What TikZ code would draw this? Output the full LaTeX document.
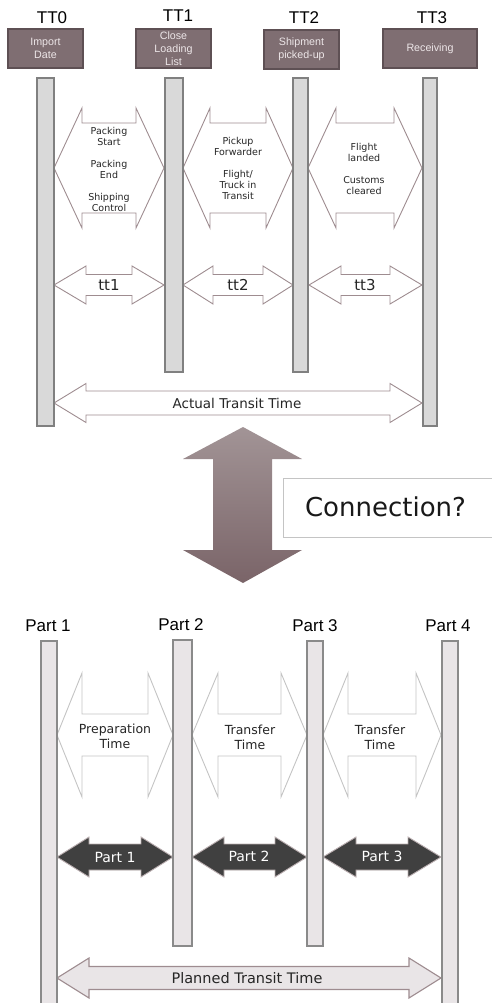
\documentclass[tikz,border=0pt]{standalone}
\usepackage{fontspec}
\newfontfamily\arialfont{Liberation Sans}
\newfontfamily\verdfont{DejaVu Sans}

\definecolor{boxfill}{HTML}{7F6E72}
\definecolor{boxline}{HTML}{5E5054}
\definecolor{boxtext}{HTML}{EDE6E8}
\definecolor{hexline}{HTML}{9E8C90}
\definecolor{midtop}{HTML}{A29496}
\definecolor{midbot}{HTML}{7A6468}
\definecolor{lightline}{HTML}{C4C4C4}
\definecolor{darkfill}{HTML}{404040}
\definecolor{palefill}{HTML}{E9E5E7}

% double headed block arrow: style, x left, x right, y, head half, shaft half, head length
\newcommand{\twoway}[7]{%
	\draw[#1] (#2,#4) -- ++(#7,-#5) -- ++(0,#5-#6) -- (#3-#7,#4-#6) -- ++(0,#6-#5)
		-- (#3,#4) -- ++(-#7,#5) -- ++(0,#6-#5) -- (#2+#7,#4+#6) -- ++(0,#5-#6) -- cycle;
}

\begin{document}
\begin{tikzpicture}[x=1pt,y=-1pt,
	stamp/.style={font=\arialfont\fontsize{17}{19}\selectfont},
	evbox/.style={fill=boxfill,draw=boxline,line width=1.2pt},
	evtext/.style={text=boxtext,align=center,font=\arialfont\fontsize{10.7}{12.8}\selectfont},
	topbar/.style={fill=black!15,draw=black!50,line width=1.6pt},
	lowbar/.style={fill=palefill,draw=black!46,line width=1.6pt},
	hexarrow/.style={fill=white,draw=hexline,line width=0.9pt},
	palearrow/.style={fill=white,draw=lightline,line width=0.9pt},
	darkarrow/.style={fill=darkfill,draw=hexline!70,line width=0.9pt},
	planarrow/.style={fill=palefill,draw=hexline,line width=1.1pt},
	small/.style={align=center,text=black!85,font=\verdfont\fontsize{9.5}{11}\selectfont},
	mid/.style={align=center,text=black!85,font=\verdfont\fontsize{12.5}{15}\selectfont},
	spanlbl/.style={text=black!85,font=\verdfont\fontsize{13.5}{15}\selectfont}]

	\useasboundingbox (0,0) rectangle (491,1003);

	% actual times
	\node[stamp] (tt0) at (52,18) {TT0};
	\node[stamp] (tt1) at (178,16) {TT1};
	\node[stamp] (tt2) at (304,18) {TT2};
	\node[stamp] (tt3) at (432,18) {TT3};

	\draw[evbox] (8,29) rectangle (83,68);
	\draw[evbox] (136,29) rectangle (211,68);
	\draw[evbox] (264,30) rectangle (339,69);
	\draw[evbox] (383,29) rectangle (477,68);
	\node[evtext] (ev0) at (45.5,48.5) {Import\\Date};
	\node[evtext] (ev1) at (173.5,48.5) {Close\\Loading\\List};
	\node[evtext] (ev2) at (301.5,49.5) {Shipment\\picked-up};
	\node[evtext] (ev3) at (430,48.5) {Receiving};

	\twoway{hexarrow}{54}{164}{168}{60}{45}{28}
	\twoway{hexarrow}{183}{293}{168}{60}{45}{27}
	\twoway{hexarrow}{308}{422}{168}{60}{45}{28}
	\node[small] (steps1) at (109,169) {Packing\\Start\\[11pt]Packing\\End\\[11pt]Shipping\\Control};
	\node[small] (steps2) at (238,168.5) {Pickup\\Forwarder\\[11pt]Flight/\\Truck in\\Transit};
	\node[small] (steps3) at (364,169) {Flight\\landed\\[11pt]Customs\\cleared};

	\twoway{hexarrow}{54}{164}{285}{19}{10.5}{32}
	\twoway{hexarrow}{183}{293}{285}{19}{10.5}{30}
	\twoway{hexarrow}{309}{422}{285}{19}{10.5}{32}
	\node[text=black!85,font=\verdfont\fontsize{15}{16}\selectfont] (d1) at (109,285) {tt1};
	\node[text=black!85,font=\verdfont\fontsize{15}{16}\selectfont] (d2) at (238,285) {tt2};
	\node[text=black!85,font=\verdfont\fontsize{15}{16}\selectfont] (d3) at (365,285) {tt3};

	\twoway{hexarrow}{54}{422}{403}{19.5}{12}{32}
	\node[spanlbl] (actual) at (237,403) {Actual Transit Time};

	\draw[topbar] (37,78) rectangle (54,426);
	\draw[topbar] (165,78) rectangle (183,372);
	\draw[topbar] (293,78) rectangle (308,372);
	\draw[topbar] (423,78) rectangle (437,426);

	% the link between both timelines
	\shade[top color=midtop,bottom color=midbot] (243,427) -- (302,459) -- (272,459) -- (272,550)
		-- (302,550) -- (243,583) -- (183,550) -- (213,550) -- (213,459) -- (183,459) -- cycle;
	\draw[lightline,line width=0.9pt,fill=white] (283,478) rectangle (496,537);
	\node[font=\verdfont\fontsize{26}{28}\selectfont,text=black!90] (conn) at (385.5,507) {Connection?};

	% planned times
	\node[stamp] (p1) at (48,626) {Part 1};
	\node[stamp] (p2) at (181,625) {Part 2};
	\node[stamp] (p3) at (315,626) {Part 3};
	\node[stamp] (p4) at (448,626) {Part 4};

	\twoway{palearrow}{57}{173}{735}{62}{21}{25}
	\twoway{palearrow}{192}{307}{735}{62}{21}{26}
	\twoway{palearrow}{323}{441}{735}{62}{21}{25}
	\node[mid] (prep) at (115,736.5) {Preparation\\Time};
	\node[mid] (move1) at (250,737) {Transfer\\Time};
	\node[mid] (move2) at (380,737) {Transfer\\Time};

	\twoway{darkarrow}{57}{173}{857}{20}{13}{32}
	\twoway{darkarrow}{192}{307}{857}{20}{13}{32}
	\twoway{darkarrow}{323}{441}{857}{20}{13}{33}
	\node[text=white,font=\verdfont\fontsize{14}{15}\selectfont] (s1) at (115,857) {Part 1};
	\node[text=white,font=\verdfont\fontsize{14}{15}\selectfont] (s2) at (249,856) {Part 2};
	\node[text=white,font=\verdfont\fontsize{14}{15}\selectfont] (s3) at (382,856) {Part 3};

	\twoway{planarrow}{57}{441}{978}{20}{11.5}{32}
	\node[spanlbl,font=\verdfont\fontsize{14.5}{16}\selectfont] (planned) at (247,978) {Planned Transit Time};

	\draw[lowbar] (41,641) rectangle (57,1008);
	\draw[lowbar] (173,640) rectangle (192,946);
	\draw[lowbar] (307,641) rectangle (323,946);
	\draw[lowbar] (442,641) rectangle (458,1008);

\end{tikzpicture}
\end{document}
